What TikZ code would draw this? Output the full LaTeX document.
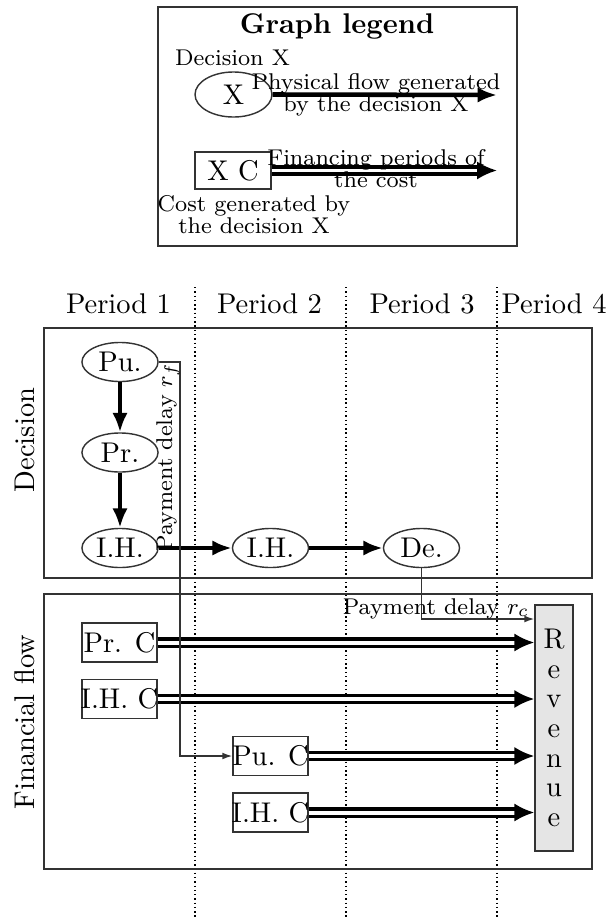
\documentclass[tikz,border=0pt]{standalone}
\usetikzlibrary{arrows.meta,shapes.geometric}
\newcommand{\zw}[1]{\makebox[0pt]{#1}}
\begin{document}
\begin{tikzpicture}[x=0.35088pt,y=-0.35088pt,
  boxline/.style={draw=black!80,line width=0.5pt},
  dec/.style={ellipse,boxline,minimum width=26.7pt,minimum height=13.7pt,inner sep=0pt},
  cost/.style={rectangle,boxline,minimum width=26.3pt,minimum height=13.7pt,inner sep=0pt},
  small/.style={font=\fontsize{8}{7.7}\selectfont,align=center,inner sep=0pt},
  smallbase/.style={font=\fontsize{8}{7.7}\selectfont,anchor=base,inner sep=0pt},
  period/.style={anchor=base,inner sep=0pt},
  physarrow/.style={line width=1.6pt,-{Latex[length=6.8pt,width=5.4pt]}},
  finarrow/.style={double,line width=1.1pt,double distance=1.4pt,-{Latex[length=7pt,width=6.4pt]}},
  delay/.style={draw=black!80,line width=0.5pt,-{Latex[length=3.5pt,width=2.4pt]}},
  sep/.style={densely dotted,line width=0.5pt},
  frame/.style={boxline}]

\useasboundingbox (0,0) rectangle (610,922);

% ---------- legend ----------
\draw[frame] (158,7) rectangle (517,246);
\node[anchor=base,inner sep=0pt,font=\bfseries] (title) at (337,33) {Graph legend};
\node[smallbase] (decx) at (232.5,65) {Decision X};
\node[dec,minimum width=27pt,minimum height=15.8pt] (x) at (233.5,94.5) {X};
\coordinate (xend) at (497,95);
\draw[physarrow] (x.east) -- (xend);
\node[small] (physlbl) at (376,95) {Physical flow generated\\by the decision X};

\node[cost,minimum width=26.7pt,minimum height=13pt] (xc) at (233,170.5) {\zw{X C}};
\coordinate (xcend) at (497,170.5);
\draw[finarrow] (xc.east) -- (xcend);
\node[small] (finlbl) at (376,169) {Financing periods of\\the cost};
\node[small] (costlbl) at (254,215) {Cost generated by\\the decision X};

% ---------- periods ----------
\node[period] (p1) at (118.5,313) {Period 1};
\node[period] (p2) at (269.5,313) {Period 2};
\node[period] (p3) at (422,313) {Period 3};
\node[period] (p4) at (554,313) {Period 4};
\draw[sep] (195,287) -- (195,918);
\draw[sep] (346,287) -- (346,918);
\draw[sep] (497,287) -- (497,918);

% ---------- frames ----------
\draw[frame] (44,328) rectangle (592,578);
\draw[frame] (44,594) rectangle (592,869);
\node[rotate=90,inner sep=0pt] (declbl) at (25,440) {Decision};
\node[rotate=90,inner sep=0pt] (flowlbl) at (25,722) {Financial flow};

% ---------- decisions ----------
\node[dec] (pu) at (120,362) {Pu.};
\node[dec] (pr) at (120,452.5) {Pr.};
\node[dec] (ih1) at (120,548) {I.H.};
\node[dec] (ih2) at (270.5,548) {I.H.};
\node[dec] (de) at (421.5,548) {De.};
\draw[physarrow] (pu) -- (pr);
\draw[physarrow] (pr) -- (ih1);
\draw[physarrow] (ih1) -- (ih2);
\draw[physarrow] (ih2) -- (de);

% ---------- financial flow ----------
\node[boxline,fill=gray!20,minimum width=13.3pt,minimum height=86.3pt,inner sep=0pt,
      align=center,font=\fontsize{10}{10.4}\selectfont] (rev) at (554,728) {R\\e\\v\\e\\n\\u\\e};
\node[cost] (prc) at (119.5,642.5) {\zw{Pr. C}};
\node[cost] (ihc1) at (119.5,699) {\zw{I.H. C}};
\node[cost] (puc) at (270.5,756) {\zw{Pu. C}};
\node[cost] (ihc2) at (270.5,812.5) {\zw{I.H. C}};
\draw[finarrow] (prc.east) -- (rev.west |- prc.east);
\draw[finarrow] (ihc1.east) -- (rev.west |- ihc1.east);
\draw[finarrow] (puc.east) -- (rev.west |- puc.east);
\draw[finarrow] (ihc2.east) -- (rev.west |- ihc2.east);

% ---------- payment delays ----------
\draw[delay] (pu.east) -- (pu.east -| 180,0) |- (puc.west);
\node[rotate=90,anchor=south,inner sep=0pt,font=\fontsize{8}{8}\selectfont] (rflbl) at (180,457) {Payment delay $r_f$};
\draw[delay] (de.south) |- (rev.west |- 0,619);
\node[smallbase] (rclbl) at (436,614) {Payment delay $r_c$};
\end{tikzpicture}
\end{document}
